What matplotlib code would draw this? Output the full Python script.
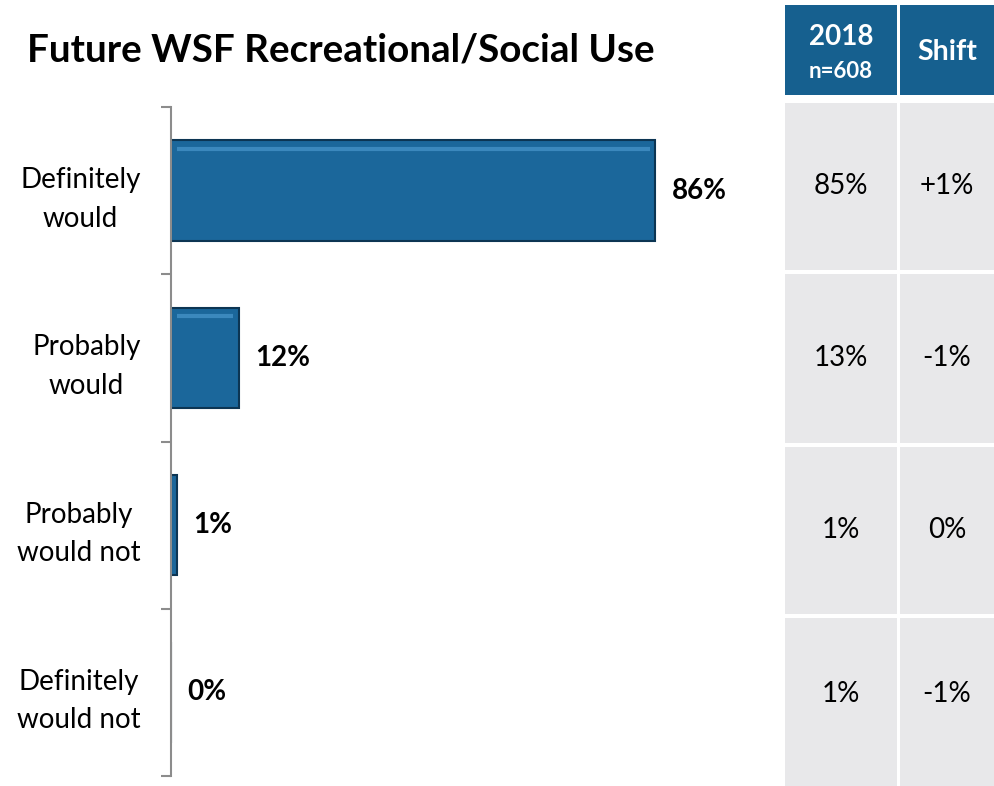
import matplotlib.pyplot as plt
from matplotlib.patches import Rectangle

plt.rcParams['font.family'] = ['Lato', 'DejaVu Sans']

# survey answers and 2019 results
categories = ['Definitely\nwould', 'Probably\nwould', 'Probably\nwould not', 'Definitely\nwould not']
values = [86, 12, 1, 0]

# comparison table
prev_header = '2018'
prev_n = 'n=608'
shift_header = 'Shift'
prev_values = ['85%', '13%', '1%', '1%']
shift_values = ['+1%', '-1%', '0%', '-1%']

W, H = 994, 786
fig = plt.figure(figsize=(W / 100, H / 100), dpi=100)

# background layer in pixel units for the title and the table
bg = fig.add_axes([0, 0, 1, 1])
bg.set_xlim(0, W)
bg.set_ylim(H, 0)
bg.axis('off')

bg.text(27, 50, 'Future WSF Recreational/Social Use', fontsize=27.8, fontweight='bold',
        va='center', ha='left')

blue = '#16608f'
grey = '#e8e8ea'
cols = [(785, 897), (900, 1000)]
rows = [(103, 270), (274, 443), (447, 614), (618, 790)]

for x0, x1 in cols:
    bg.add_patch(Rectangle((x0, 5), x1 - x0, 90, color=blue, lw=0))
    for y0, y1 in rows:
        bg.add_patch(Rectangle((x0, y0), x1 - x0, y1 - y0, color=grey, lw=0))

c1 = sum(cols[0]) / 2
c2 = (cols[1][0] + W) / 2
bg.text(c1, 37, prev_header, color='white', fontsize=20, fontweight='bold', ha='center', va='center')
bg.text(c1, 72, prev_n, color='white', fontsize=16, fontweight='bold', ha='center', va='center')
bg.text(c2, 52, shift_header, color='white', fontsize=20.5, fontweight='bold', ha='center', va='center')
for (y0, y1), pv, sv in zip(rows[:3] + [(618, 770)], prev_values, shift_values):
    yc = (y0 + y1) / 2
    bg.text(c1, yc, pv, fontsize=20, ha='center', va='center')
    bg.text(c2, yc, sv, fontsize=20, ha='center', va='center')

# bar chart
ax = fig.add_axes([171 / W, 10 / H, 563 / W, 669 / H])
y = list(range(len(categories)))
ax.barh(y, values, height=0.6, color='#1b679b', edgecolor='#0c3553', linewidth=1.5, zorder=2)
# soft bevel along the top of the wider bars
for yi, v in zip(y, values):
    if v > 5:
        ax.hlines(yi - 0.25, 1.0, v - 1.0, color='#4a97cc', lw=3, alpha=0.7, zorder=3)
for yi, v in zip(y, values):
    ax.annotate(f'{v}%', (v, yi), xytext=(12, 0), textcoords='offset points',
                fontsize=20, fontweight='bold', va='center', ha='left')

ax.set_xlim(0, 100)
ax.set_ylim(len(categories) - 0.5, -0.5)
ax.set_xticks([])
ax.set_yticks([i - 0.5 for i in range(len(categories) + 1)])
ax.set_yticklabels([])
ax.set_yticks(y, minor=True)
ax.set_yticklabels(categories, minor=True, fontsize=20, multialignment='center', linespacing=1.6)
ax.tick_params(axis='y', which='major', length=7, width=1.5, color='#8c8c8c')
ax.tick_params(axis='y', which='minor', length=0, pad=22)
for s in ['top', 'right', 'bottom']:
    ax.spines[s].set_visible(False)
ax.spines['left'].set_color('#8c8c8c')
ax.spines['left'].set_linewidth(1.5)
ax.patch.set_alpha(0)

fig.savefig('out.png', dpi=100)
